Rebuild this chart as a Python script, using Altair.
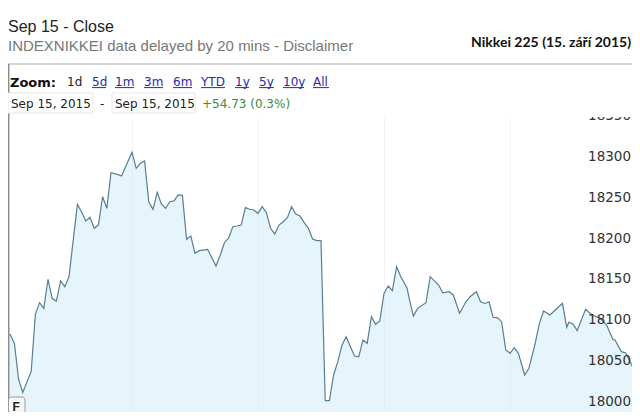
import altair as alt
import pandas as pd

# ---------------- data ----------------
# trading minutes since 9:00 (lunch break removed) and index level
minutes = [0, 2, 4, 6, 8, 10, 12, 14, 16, 18, 20, 22, 24, 26, 28, 30, 34, 36, 38, 40,
           42, 44, 46, 48, 50, 53, 55, 58, 60, 62, 64, 66, 68, 70, 72, 74, 76, 78, 80, 82,
           84, 86, 88, 90, 92, 96, 100, 102, 104, 106, 108, 110, 112, 114, 116, 118, 120, 122, 124, 126,
           128, 130, 132, 134, 136, 138, 140, 142, 144, 146, 148, 150, 152, 154, 156, 158, 160, 162, 164, 166,
           168, 170, 172, 174, 176, 178, 180, 182, 184, 186, 188, 191, 192, 194, 196, 200, 202, 206, 208, 211,
           213, 216, 219, 221, 224, 226, 228, 230, 232, 234, 236, 238, 240, 242, 244, 247, 249, 252, 254, 256,
           259, 262, 265, 267, 268, 270, 272, 276, 279, 283, 286, 289, 290, 293, 295, 297, 299, 300]
values = [18090.6, 18090.0, 18079.0, 18035.0, 18019.0, 18032.0, 18045.0, 18115.0, 18129.0, 18122.0,
          18157.6, 18134.0, 18131.0, 18155.5, 18148.5, 18160.8, 18249.4, 18240.0, 18229.0, 18233.5,
          18220.0, 18224.0, 18258.7, 18244.5, 18288.0, 18286.0, 18284.0, 18301.6, 18313.0, 18293.5,
          18299.6, 18302.4, 18252.6, 18243.3, 18264.0, 18249.8, 18244.5, 18252.6, 18253.5, 18260.8,
          18260.4, 18206.6, 18210.6, 18189.4, 18192.6, 18194.3, 18173.9, 18187.0, 18202.4, 18207.8,
          18222.0, 18222.8, 18224.0, 18245.3, 18243.3, 18242.4, 18238.4, 18246.5, 18239.1, 18220.0,
          18213.0, 18224.0, 18228.0, 18233.0, 18246.5, 18237.5, 18235.0, 18226.9, 18220.0, 18207.0,
          18204.9, 18204.9, 18009.0, 18009.0, 18040.4, 18056.7, 18077.0, 18087.3, 18075.0, 18063.7,
          18062.8, 18083.3, 18079.2, 18111.8, 18102.5, 18106.5, 18140.4, 18149.4, 18143.7, 18173.0,
          18160.8, 18146.6, 18134.3, 18112.6, 18122.0, 18129.0, 18160.8, 18150.6, 18141.0, 18142.4,
          18138.4, 18116.0, 18130.0, 18136.3, 18142.4, 18130.0, 18128.0, 18130.0, 18111.0, 18110.6,
          18105.7, 18071.0, 18067.0, 18073.8, 18067.0, 18040.4, 18048.6, 18079.2, 18103.7, 18118.8,
          18113.9, 18120.9, 18128.2, 18098.8, 18105.0, 18102.9, 18094.7, 18120.9, 18113.9, 18109.8,
          18101.6, 18084.0, 18083.3, 18069.0, 18067.7, 18058.0, 18046.5, 18026.5]
ticks = [18000, 18050, 18100, 18150, 18200, 18250, 18300, 18350]
hour_marks = [60, 120, 180, 240]

title_text = "Nikkei 225 (15. září 2015)"
close_label = "Sep 15 - Close"
source_text = "INDEXNIKKEI data delayed by 20 mins - Disclaimer"
zoom_label = "Zoom:"
active_range = "1d"
range_links = ["5d", "1m", "3m", "6m", "YTD", "1y", "5y", "10y", "All"]
date_from = "Sep 15, 2015"
date_to = "Sep 15, 2015"
change_text = "+54.73 (0.3%)"
flag_text = "F"

# ---------------- layout (page pixels of the reference) ----------------
PAD_TOP = 109
W, H = 624, 295
link_left = [92, 115, 144, 173, 201, 235, 259, 283, 313]
link_right = [106, 134, 163, 192, 225, 249, 274, 304, 329]


def px(x):
    return x - 8


def py(y):
    return y - 8 - PAD_TOP


one = alt.Data(values=[{}])


def txt(s, x, y, size=12, color="#222222", weight="normal", font="DejaVu Sans", align="left"):
    return alt.Chart(one).mark_text(
        text=s, fontSize=size, color=color, fontWeight=weight, font=font,
        align=align, baseline="alphabetic"
    ).encode(x=alt.value(px(x)), y=alt.value(py(y)))


def rule(x1, y1, x2, y2, color, width=1):
    return alt.Chart(one).mark_rule(color=color, strokeWidth=width).encode(
        x=alt.value(px(x1)), x2=alt.value(px(x2)), y=alt.value(py(y1)), y2=alt.value(py(y2))
    )


def box(x1, y1, x2, y2, stroke, fill, radius=0):
    return alt.Chart(one).mark_rect(stroke=stroke, fill=fill, strokeWidth=1, cornerRadius=radius).encode(
        x=alt.value(px(x1)), x2=alt.value(px(x2)), y=alt.value(py(y1)), y2=alt.value(py(y2))
    )


# ---------------- main chart ----------------
df = pd.DataFrame({"minute": minutes, "close": values})
xs = alt.Scale(domain=[0.95, 298.1], nice=False, zero=False)
ys = alt.Scale(domain=[17995.1, 18356.3], nice=False, zero=False)

base = alt.Chart(df).encode(
    x=alt.X("minute:Q", scale=xs,
            axis=alt.Axis(values=hour_marks, grid=True, gridColor="#f3f3f3", labels=False,
                          ticks=False, domain=False, title=None)),
    y=alt.Y("close:Q", scale=ys,
            axis=alt.Axis(values=ticks, grid=True, gridColor="#e2e2e2", labels=False,
                          ticks=False, domain=False, title=None)),
)
area = base.mark_area(color="#cde9f8", opacity=0.5, clip=True)
line = base.mark_line(color="#587f93", strokeWidth=1.2, clip=True)

tick_df = pd.DataFrame({"tick": ticks, "label": [str(t) for t in ticks]})
labels = alt.Chart(tick_df).mark_text(
    align="right", baseline="alphabetic", dy=-2, fontSize=13.5, font="DejaVu Sans",
    color="#333333", clip=True
).encode(x=alt.value(623), y=alt.Y("tick:Q", scale=ys, axis=None), text="label:N")

layers = [area, line, labels]

# panel frame
layers.append(rule(8, 64, 632, 64, "#c6c6c6", 1.5))
layers.append(rule(8.7, 64, 8.7, 430, "#8c8c8c", 1.5))

# header texts
layers.append(txt(close_label, 8, 32.3, size=16, color="#222222", font="Liberation Sans"))
layers.append(txt(source_text, 8, 50.7, size=15, color="#777777", font="Liberation Sans"))
layers.append(txt(title_text, 631, 46.5, size=14, color="#111111", weight="bold", font="Lato", align="right"))

# zoom row
layers.append(txt(zoom_label, 10, 86.8, size=13, color="#111111", weight="bold"))
layers.append(txt(active_range, 67, 85.8, size=12, color="#222222"))
for lab, l, r in zip(range_links, link_left, link_right):
    layers.append(txt(lab, l, 85.8, size=12, color="#2a2aa8"))
    layers.append(rule(l, 87.6, r, 87.6, "#2a2aa8", 1))

# date row
layers.append(box(8, 93, 93, 113, "#e6e6e6", "#ffffff"))
layers.append(box(112, 93, 195, 113, "#e6e6e6", "#ffffff"))
layers.append(txt(date_from, 11, 107.6, size=12))
layers.append(txt("-", 100, 107.6, size=12))
layers.append(txt(date_to, 115, 107.6, size=12))
layers.append(txt(change_text, 202, 107.6, size=12, color="#3c8c3c"))

# flag marker at the bottom left
layers.append(box(8.5, 397, 25, 430, "#9a9a9a", "#f7f7f7", radius=3))
layers.append(txt(flag_text, 12.5, 410.5, size=12, color="#222222", weight="bold", font="Liberation Sans"))

chart = alt.layer(*layers).properties(
    width=W, height=H,
    padding={"top": PAD_TOP, "left": 0, "right": 0, "bottom": 0},
    autosize=alt.AutoSizeParams(type="none"),
    background="#ffffff",
).configure_view(strokeWidth=0)

chart.save("out.html", embed_options={"renderer": "svg", "actions": False})
